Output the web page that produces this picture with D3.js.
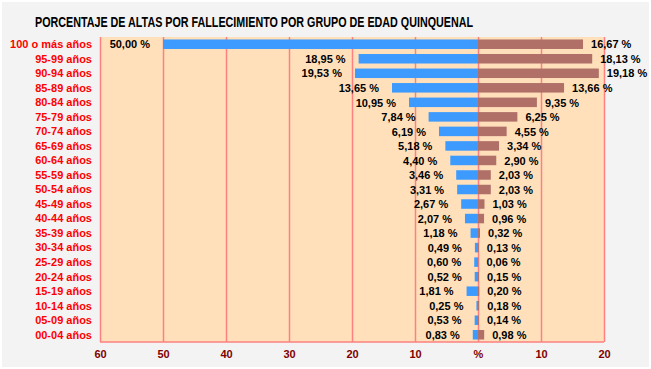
<!DOCTYPE html>
<html>
<head>
<meta charset="utf-8">
<script src="https://cdn.jsdelivr.net/npm/d3@7"></script>
<style>
  body { margin: 0; background: #fff; }
  svg text { font-family: "Liberation Sans", Arial, sans-serif; font-weight: bold; }
</style>
</head>
<body>
<div id="chart"></div>
<script>
// Age groups, top to bottom
const categories = ["100 o más años", "95-99 años", "90-94 años", "85-89 años", "80-84 años",
    "75-79 años", "70-74 años", "65-69 años", "60-64 años", "55-59 años", "50-54 años",
    "45-49 años", "40-44 años", "35-39 años", "30-34 años", "25-29 años", "20-24 años",
    "15-19 años", "10-14 años", "05-09 años", "00-04 años"];

// left side (blue) and right side (brown) percentages
const leftValues = [50.00, 18.95, 19.53, 13.65, 10.95, 7.84, 6.19, 5.18, 4.40, 3.46, 3.31,
    2.67, 2.07, 1.18, 0.49, 0.60, 0.52, 1.81, 0.25, 0.53, 0.83];
const rightValues = [16.67, 18.13, 19.18, 13.66, 9.35, 6.25, 4.55, 3.34, 2.90, 2.03, 2.03,
    1.03, 0.96, 0.32, 0.13, 0.06, 0.15, 0.20, 0.18, 0.14, 0.98];

const xTicks = [-60, -50, -40, -30, -20, -10, 0, 10, 20];
const title = "PORCENTAJE DE ALTAS POR FALLECIMIENTO POR GRUPO DE EDAD QUINQUENAL";

const width = 651, height = 369;
const plot = { left: 100, right: 604, top: 37, bottom: 342 };

const fmt = v => v.toFixed(2).replace(".", ",") + " %";

const svg = d3.select("#chart").append("svg")
    .attr("width", width)
    .attr("height", height);

// outer panel
svg.append("rect")
    .attr("x", 2).attr("y", 2)
    .attr("width", width - 4).attr("height", height - 4)
    .attr("fill", "#f3f3f3");

svg.append("text")
    .attr("x", 35)
    .attr("y", 27)
    .attr("textLength", 438)
    .attr("lengthAdjust", "spacingAndGlyphs")
    .style("font-size", "15px")
    .attr("fill", "#000")
    .text(title);

const x = d3.scaleLinear()
    .domain([-60, 20])
    .range([plot.left, plot.right]);

const y = d3.scaleBand()
    .domain(categories)
    .range([plot.top, plot.bottom])
    .paddingInner(0.345)
    .paddingOuter(0.17);

// plot background
svg.append("rect")
    .attr("x", plot.left).attr("y", plot.top)
    .attr("width", plot.right - plot.left)
    .attr("height", plot.bottom - plot.top)
    .attr("fill", "#ffe0bb");

// vertical gridlines
svg.append("g")
    .attr("class", "grid")
    .attr("transform", `translate(0,${plot.top})`)
    .call(d3.axisBottom(x)
        .tickValues(xTicks)
        .tickSize(plot.bottom - plot.top)
        .tickFormat("")
    )
    .call(g => g.select(".domain").remove())
    .selectAll("line")
    .attr("stroke", "#ff8080")
    .attr("stroke-width", 1.5);

// bottom border
svg.append("line")
    .attr("x1", plot.left).attr("x2", plot.right)
    .attr("y1", plot.bottom).attr("y2", plot.bottom)
    .attr("stroke", "#ff8080")
    .attr("stroke-width", 1.5);

// x axis labels
svg.append("g")
    .attr("transform", `translate(0,${plot.bottom})`)
    .call(d3.axisBottom(x)
        .tickValues(xTicks)
        .tickSize(0)
        .tickPadding(8)
        .tickFormat(d => d === 0 ? "%" : Math.abs(d))
    )
    .call(g => g.select(".domain").remove())
    .selectAll("text")
    .attr("fill", "#800000")
    .style("font-size", "11px");

// category labels
svg.append("g")
    .selectAll("text")
    .data(categories)
    .enter()
    .append("text")
    .attr("x", 92)
    .attr("y", d => y(d) + y.bandwidth() / 2)
    .attr("dy", "0.35em")
    .attr("text-anchor", "end")
    .attr("fill", "#ff0000")
    .style("font-size", "11px")
    .text(d => d);

const rows = categories.map((c, i) => ({ cat: c, left: leftValues[i], right: rightValues[i] }));

// left bars (blue)
svg.append("g")
    .selectAll("rect")
    .data(rows)
    .enter()
    .append("rect")
    .attr("x", d => x(-d.left))
    .attr("y", d => y(d.cat))
    .attr("width", d => x(0) - x(-d.left))
    .attr("height", y.bandwidth())
    .attr("fill", "#3d9bff");

// right bars (brown)
svg.append("g")
    .selectAll("rect")
    .data(rows)
    .enter()
    .append("rect")
    .attr("x", x(0))
    .attr("y", d => y(d.cat))
    .attr("width", d => x(d.right) - x(0))
    .attr("height", y.bandwidth())
    .attr("fill", "#b07068");

// value labels
svg.append("g")
    .selectAll("text")
    .data(rows)
    .enter()
    .append("text")
    .attr("x", d => x(-d.left) - 13)
    .attr("y", d => y(d.cat) + y.bandwidth() / 2)
    .attr("dy", "0.38em")
    .attr("text-anchor", "end")
    .style("font-size", "11px")
    .text(d => fmt(d.left));

svg.append("g")
    .selectAll("text")
    .data(rows)
    .enter()
    .append("text")
    .attr("x", d => x(d.right) + 8)
    .attr("y", d => y(d.cat) + y.bandwidth() / 2)
    .attr("dy", "0.38em")
    .attr("text-anchor", "start")
    .style("font-size", "11px")
    .text(d => fmt(d.right));
</script>
</body>
</html>
